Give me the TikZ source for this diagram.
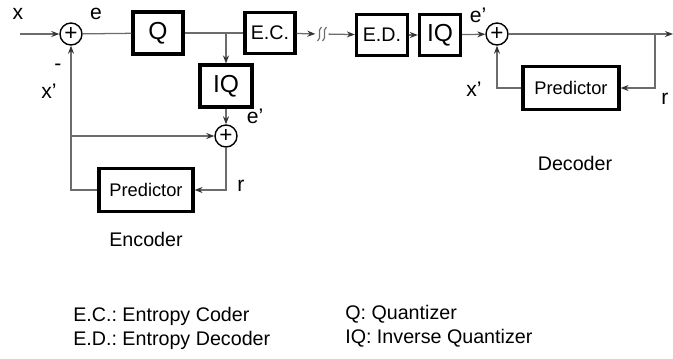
\documentclass[tikz,border=0pt]{standalone}
\usepackage{fontspec}
\setmainfont{Liberation Sans}
\usepackage{tikz}
\usetikzlibrary{arrows.meta, positioning, calc}
\frenchspacing
\tikzset{
  blockbox/.style={
    draw, line width=2.2pt, align=center, fill=white,
    inner sep=0pt, font=\fontsize{17.5}{20}\selectfont
  },
  codebox/.style={
    blockbox, font=\fontsize{14}{16}\selectfont
  },
  predbox/.style={
    blockbox, minimum width=2.35cm, minimum height=1.08cm,
    font=\fontsize{13}{15}\selectfont
  },
  sumnode/.style={
    circle, draw, line width=1pt, minimum size=0.55cm, inner sep=0pt,
    font=\fontsize{16}{16}\selectfont
  },
  sigline/.style={line width=0.9pt, color=gray!85!black},
  sigarrow/.style={
    sigline, -{Stealth[length=2mm, width=1.5mm, color=black!80]}
  },
  siglabel/.style={font=\fontsize{15}{17}\selectfont, inner sep=0pt},
  legendtext/.style={font=\fontsize{14}{16}\selectfont, inner sep=0pt, anchor=base west},
}

\begin{document}
\begin{tikzpicture}[x=0.025cm, y=-0.025cm]
  \useasboundingbox (0,0) rectangle (673,358);

  % --- Encoder blocks ---
  \node[sumnode] (sumA) at (71,34) {+};
  \node[blockbox, minimum width=1.25cm, minimum height=1.05cm] (Q) at (158,33) {Q};
  \node[codebox, minimum width=1.25cm, minimum height=1.03cm] (EC) at (270,33) {E.C.};
  \node[blockbox, minimum width=1.3cm, minimum height=1.05cm] (IQa) at (226,86) {IQ};
  \node[sumnode] (sumC) at (226,136) {+};
  \node[predbox] (predA) at (146,190) {Predictor};
  \coordinate (xin) at (20,34);
  \coordinate (tapA) at (226,34);
  \coordinate (joinA) at (71,136);

  % --- Channel break ---
  \node[minimum width=0.32cm, minimum height=0.35cm, inner sep=0pt] (brk) at (322,34) {};
  \foreach \dx in {-2.5,2.5}
    \draw[line width=0.8pt, color=gray!85!black]
      ($(brk)+(\dx+2,-7)$) .. controls +(-5,3) and +(5,-3) .. ($(brk)+(\dx-2,7)$);

  % --- Decoder blocks ---
  \node[codebox, minimum width=1.28cm, minimum height=1.03cm] (ED) at (382,35) {E.D.};
  \node[blockbox, minimum width=1.03cm, minimum height=1.03cm] (IQb) at (440,35) {IQ};
  \node[sumnode] (sumB) at (497,34) {+};
  \node[predbox, minimum width=2.4cm] (predB) at (571,88) {Predictor};
  \coordinate (tapB) at (655,34);
  \coordinate (xout) at (673,34);

  % --- Encoder connections ---
  \draw[sigarrow] (xin) -- (sumA);
  \draw[sigline] (sumA) -- (Q);
  \draw[sigline] (Q) -- (EC);
  \draw[sigarrow] (tapA) -- (IQa);
  \draw[sigarrow] (IQa) -- (sumC);
  \draw[sigarrow] (sumC) |- (predA);
  \draw[sigarrow] (predA.west) -| (sumA);
  \draw[sigarrow] (joinA) -- (sumC);

  % --- Channel ---
  \draw[sigarrow] (EC) -- (brk);
  \draw[sigarrow] (brk) -- (ED);

  % --- Decoder connections ---
  \draw[sigarrow] (ED) -- (IQb);
  \draw[sigarrow] (IQb) -- (sumB);
  \draw[sigarrow] (sumB) -- (xout);
  \draw[sigarrow] (tapB) |- (predB);
  \draw[sigarrow] (predB.west) -| (sumB);

  % --- Signal labels ---
  \node[siglabel] (lx) at (18,14) {x};
  \node[siglabel] (le) at (96,14) {e};
  \node[siglabel] (lminus) at (58,67) {-};
  \node[siglabel] (lxpa) at (49,91) {x'};
  \node[siglabel] (lepa) at (255,116) {e'};
  \node[siglabel] (lra) at (241,186) {r};
  \node[siglabel] (lepb) at (478,15) {e'};
  \node[siglabel] (lxpb) at (474,89) {x'};
  \node[siglabel] (lrb) at (665,99) {r};
  \node[legendtext, anchor=center] (enc) at (146,239) {Encoder};
  \node[legendtext, anchor=center] (dec) at (575,163) {Decoder};

  % --- Legend ---
  \node[legendtext] (legEC) at (73,321) {E.C.: Entropy Coder};
  \node[legendtext] (legED) at (73,345) {E.D.: Entropy Decoder};
  \node[legendtext] (legQ) at (345,319) {Q: Quantizer};
  \node[legendtext] (legIQ) at (345,343) {IQ: Inverse Quantizer};
\end{tikzpicture}
\end{document}
